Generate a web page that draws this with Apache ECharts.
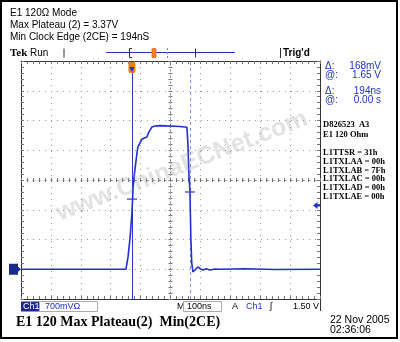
<!DOCTYPE html>
<html><head><meta charset="utf-8">
<script src="https://cdn.jsdelivr.net/npm/echarts@6/dist/echarts.min.js"></script>
<style>html,body{margin:0;padding:0;background:#fff}#c{width:400px;height:342px}</style>
</head><body><div id="c"></div>
<script>
// ---- data (time in ns across the 10-division screen, voltage in mV) ----
const timeNs = [0, 351, 358, 365, 371, 375, 378, 388, 391, 405, 421, 428, 438, 448, 465, 498, 532, 555, 558, 562, 565, 568, 571, 575, 585, 592, 599, 609, 619, 632, 649, 665, 750, 850, 1000];
const voltMv = [0, 0, 290, 760, 1325, 1937, 2172, 2737, 2878, 3066, 3113, 3231, 3348, 3372, 3379, 3372, 3360, 3340, 2972, 2172, 1866, 760, 148, -64, 7, 54, 14, -16, 14, -16, 7, 0, 10, -5, 0];
const cursorNs = [371, 565];
const cursorMv = [1650, 1818];
const triggerNs = 371;
const triggerLevelMv = 1500;
const groundMv = 0;
const headerLines = ['E1 120\u03A9 Mode', 'Max Plateau (2) = 3.37V', 'Min Clock Edge (2CE) = 194nS'];
const readoutLabels = ['\u0394:', '@:', '\u0394:', '@:'];
const readoutValues = ['168mV', '1.65 V', '194ns', '0.00 s'];
const infoLines = ['D826523  A3', 'E1 120 Ohm'];
const regLines = ['L1TTSR = 31h', 'L1TXLAA = 00h', 'L1TXLAB = 7Fh', 'L1TXLAC = 00h', 'L1TXLAD = 00h', 'L1TXLAE = 00h'];
const xMin = 0, xMax = 1000, xStep = 100;
const yMin = -700, yMax = 4900, yStep = 700;

const chart = echarts.init(document.getElementById('c'), null, {renderer: 'canvas'});
const BLUE = '#1f30d4';
const FRAME = '#333';
function baseAxis(extra) {
  const a = Object.assign({
    type: 'value', axisLabel: {show: false}, splitLine: {show: false},
    axisLine: {show: true, lineStyle: {color: FRAME, width: 1}},
    axisTick: {show: true, inside: true, length: 3, lineStyle: {color: '#777'}},
    minorTick: {show: true, splitNumber: 5, length: 3, lineStyle: {color: '#777'}},
    minorSplitLine: {show: false}
  }, extra);
  a.axisLine = Object.assign({onZero: false}, a.axisLine);
  return a;
}
const xa = {min: xMin, max: xMax, interval: xStep};
const ya = {min: yMin, max: yMax, interval: yStep};
const centerLine = {show: true, onZero: false, lineStyle: {color: '#888', width: 1, type: [1, 5]}};
const ctick = {show: true, length: 2, lineStyle: {color: '#777'}};

chart.setOption({
  animation: false,
  backgroundColor: '#fff',
  grid: {left: 21, top: 61, width: 299, height: 238, containLabel: false, outerBoundsMode: 'none'},
  xAxis: [
    baseAxis(Object.assign({position: 'bottom', splitLine: {show: true, lineStyle: {color: '#999', width: 1, type: [1, 5]}}}, xa)),
    baseAxis(Object.assign({position: 'top'}, xa)),
    baseAxis(Object.assign({position: 'bottom', offset: -119, axisLine: centerLine,
      axisTick: Object.assign({inside: true}, ctick), minorTick: Object.assign({splitNumber: 5}, ctick)}, xa)),
    baseAxis(Object.assign({position: 'bottom', offset: -119, axisLine: centerLine,
      axisTick: Object.assign({inside: false}, ctick), minorTick: Object.assign({splitNumber: 5}, ctick)}, xa))
  ],
  yAxis: [
    baseAxis(Object.assign({position: 'left', splitLine: {show: true, lineStyle: {color: '#999', width: 1, type: [1, 5]}}}, ya)),
    baseAxis(Object.assign({position: 'right'}, ya)),
    baseAxis(Object.assign({position: 'left', offset: -149.5, axisLine: centerLine,
      axisTick: Object.assign({inside: true}, ctick), minorTick: Object.assign({splitNumber: 5}, ctick)}, ya)),
    baseAxis(Object.assign({position: 'left', offset: -149.5, axisLine: centerLine,
      axisTick: Object.assign({inside: false}, ctick), minorTick: Object.assign({splitNumber: 5}, ctick)}, ya))
  ],
  series: [
    {
      type: 'line', xAxisIndex: 0, yAxisIndex: 0,
      data: timeNs.map((t, i) => [t, voltMv[i]]),
      symbol: 'none', showSymbol: false, z: 5,
      lineStyle: {color: BLUE, width: 1.6},
      markLine: {
        silent: true, symbol: 'none', label: {show: false}, animation: false,
        data: [
          {xAxis: cursorNs[0], lineStyle: {color: '#2a3ad8', width: 1, type: 'solid'}},
          {xAxis: cursorNs[1], lineStyle: {color: '#8190ec', width: 1, type: [3, 3]}}
        ]
      }
    },
    {
      type: 'scatter', xAxisIndex: 0, yAxisIndex: 0,
      data: cursorNs.map((t, i) => [t, cursorMv[i]]),
      symbol: 'rect', symbolSize: [10, 1.5], itemStyle: {color: '#2a3ad8'}, z: 6
    }
  ]
});

const px = (t, v) => chart.convertToPixel({xAxisIndex: 0, yAxisIndex: 0}, [t, v]);
const g = [];
const SANS = 'Liberation Sans';
const SERIF = 'Liberation Serif';
function txt(text, x, y, font, fill, align) {
  g.push({type: 'text', x: x, y: y, z: 100, silent: true,
    style: {text: text, font: font, fill: fill || '#000', textAlign: align || 'left', textVerticalAlign: 'middle'}});
}
function line(x1, y1, x2, y2, stroke, w, dash) {
  g.push({type: 'line', z: 100, silent: true, shape: {x1, y1, x2, y2},
    style: {stroke: stroke, lineWidth: w || 1, lineDash: dash || null}});
}
// outer frame
g.push({type: 'rect', z: 100, silent: true, shape: {x: 1, y: 1, width: 396, height: 337}, style: {fill: null, stroke: '#000', lineWidth: 2}});
// watermark
g.push({type: 'text', x: 182, y: 166, rotation: 0.37, z: 60, silent: true,
  style: {text: 'www.ChinaECNet.com', font: 'bold 25px ' + SANS, fill: 'rgba(150,150,150,0.28)', textAlign: 'center', textVerticalAlign: 'middle'}});
// header
headerLines.forEach((s, i) => txt(s, 10, 13.5 + i * 11.8, '10px ' + SANS));
// top status bar
txt('Tek', 10, 53, 'bold 11px ' + SERIF);
txt('Run', 30, 53, '10px ' + SANS);
line(64, 48.5, 64, 57.5, '#333', 1);
line(106, 52.5, 235, 52.5, BLUE, 1.2);
g.push({type: 'polyline', z: 100, silent: true, shape: {points: [[132, 48.5], [129.5, 48.5], [129.5, 57.5], [132, 57.5]]}, style: {stroke: '#333', fill: null, lineWidth: 1}});
g.push({type: 'rect', z: 101, silent: true, shape: {x: 151.5, y: 48, width: 5, height: 10, r: 1.5}, style: {fill: '#f07a20'}});
line(154, 49, 154, 57, '#7a2a00', 1);
line(167.5, 48, 167.5, 58, '#6f80e8', 1, [2, 2]);
line(195.5, 48.5, 195.5, 57.5, '#333', 1);
line(280.5, 48, 280.5, 58, '#333', 1);
txt("Trig'd", 283, 53.5, 'bold 10px ' + SANS);
// trigger position marker on graticule
const tp = px(triggerNs, yMax);
g.push({type: 'rect', z: 101, silent: true, shape: {x: tp[0] - 3.5, y: tp[1] + 1, width: 7, height: 11, r: 2}, style: {fill: '#f07a20'}});
g.push({type: 'polygon', z: 102, silent: true, shape: {points: [[tp[0] - 2.5, tp[1] + 6], [tp[0] + 2.5, tp[1] + 6], [tp[0], tp[1] + 11]]}, style: {fill: BLUE}});
line(tp[0], tp[1] + 2, tp[0], tp[1] + 7, BLUE, 1.2);
// ground marker
const gp = px(xMin, groundMv);
g.push({type: 'rect', z: 101, silent: true, shape: {x: gp[0] - 12, y: gp[1] - 5.5, width: 9, height: 11}, style: {fill: '#1b2a8a'}});
g.push({type: 'polygon', z: 101, silent: true, shape: {points: [[gp[0] - 3.5, gp[1] - 3], [gp[0], gp[1]], [gp[0] - 3.5, gp[1] + 3]]}, style: {fill: '#1b2a8a'}});
txt('1', gp[0] - 7.5, gp[1] + 0.5, 'bold 9px ' + SANS, '#fff', 'center');
// trigger level arrow
const lp = px(xMax, triggerLevelMv);
g.push({type: 'polygon', z: 101, silent: true, shape: {points: [[lp[0] - 7, lp[1]], [lp[0] - 2.5, lp[1] - 3.5], [lp[0] - 2.5, lp[1] + 3.5]]}, style: {fill: BLUE}});
line(lp[0] - 3, lp[1], lp[0], lp[1], BLUE, 2);
// right readouts
const ry = [66, 75, 91, 100];
readoutLabels.forEach((s, i) => txt(s, 325, ry[i], '10px ' + SANS, BLUE));
readoutValues.forEach((s, i) => txt(s, 381, ry[i], '10px ' + SANS, BLUE, 'right'));
infoLines.forEach((s, i) => txt(s, 323, 125 + i * 10, 'bold 8.5px ' + SERIF));
regLines.forEach((s, i) => txt(s, 323, 153 + i * 8.7, 'bold 8.5px ' + SERIF));
// bottom status
g.push({type: 'rect', z: 100, silent: true, shape: {x: 21, y: 301.5, width: 18, height: 10}, style: {fill: '#1b2a8a'}});
txt('Ch1', 23, 306.5, '9px ' + SANS, '#fff');
g.push({type: 'rect', z: 100, silent: true, shape: {x: 39.5, y: 301.5, width: 58, height: 10}, style: {fill: null, stroke: '#aaa', lineWidth: 1}});
txt('700mV\u03A9', 45, 306.5, '9px ' + SANS, BLUE);
txt('M', 177, 306.5, '9px ' + SANS);
g.push({type: 'rect', z: 100, silent: true, shape: {x: 183.5, y: 301.5, width: 38, height: 10}, style: {fill: null, stroke: '#aaa', lineWidth: 1}});
txt('100ns', 187, 306.5, '9px ' + SANS);
txt('A', 232, 306.5, '9px ' + SANS);
txt('Ch1', 246, 306.5, '9px ' + SANS, BLUE);
txt('\u0283', 270, 306.5, '9px ' + SANS);
txt('1.50 V', 319, 306.5, '9px ' + SANS, '#000', 'right');
line(320.5, 299, 320.5, 311, '#333', 1);
// bottom title and date
txt('E1 120 Max Plateau(2)  Min(2CE)', 16, 322, 'bold 14px ' + SERIF);
txt('22 Nov 2005', 330, 320, '10.5px ' + SANS);
txt('02:36:06', 330, 330, '10.5px ' + SANS);
chart.setOption({graphic: {elements: g}});
</script>
</body></html>
